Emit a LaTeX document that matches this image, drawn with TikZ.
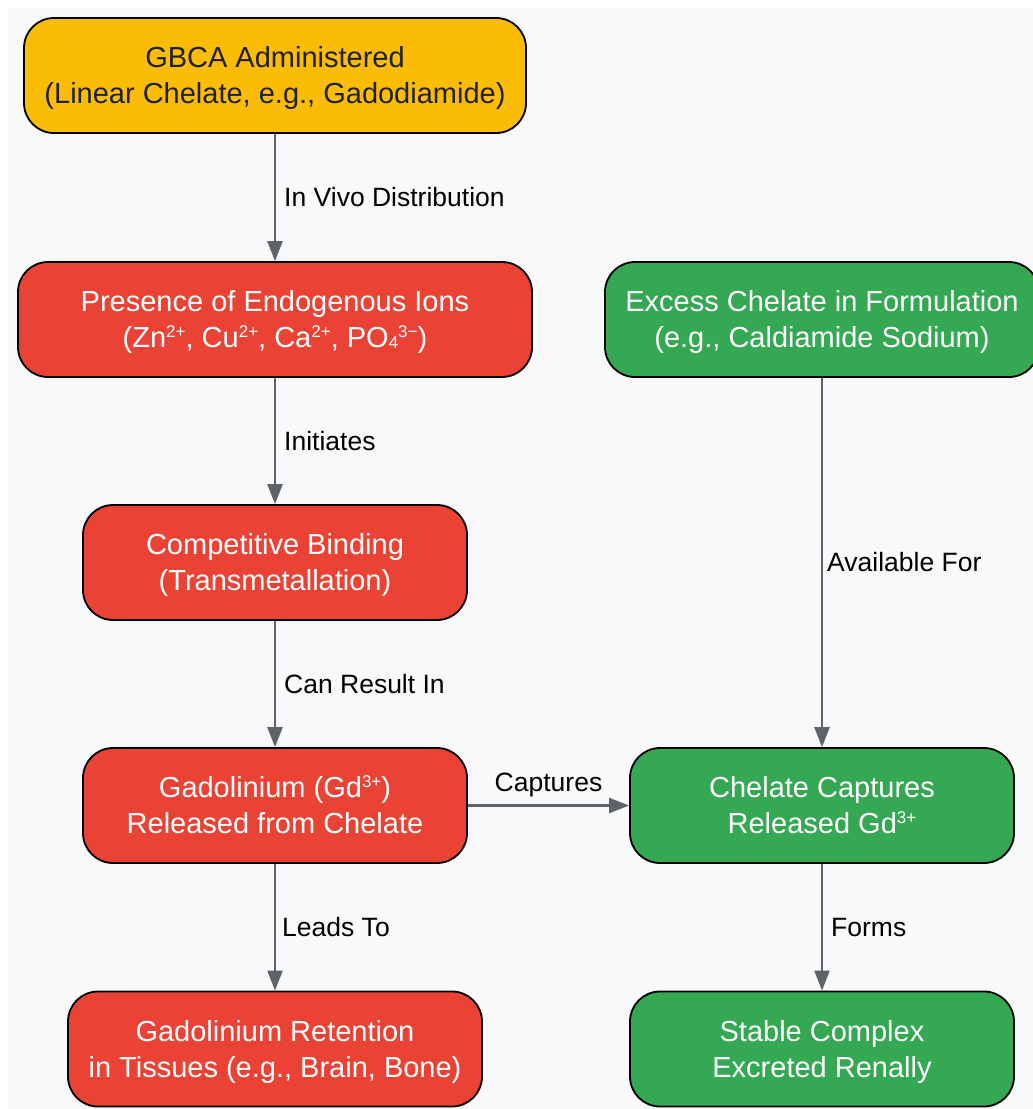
\documentclass[tikz,border=0pt]{standalone}
\usepackage{fontspec}
\setmainfont{Liberation Sans}
\usetikzlibrary{arrows.meta}
\definecolor{bgc}{HTML}{F8F9FA}
\definecolor{yel}{HTML}{FBBC05}
\definecolor{redc}{HTML}{EA4335}
\definecolor{grn}{HTML}{34A853}
\definecolor{arr}{HTML}{5F6368}
\definecolor{dark}{HTML}{202124}
\newcommand{\mysup}[1]{\raisebox{0.36em}{\fontsize{17}{17}\selectfont #1}}
\newcommand{\mysub}[1]{\raisebox{-0.02em}{\fontsize{17}{17}\selectfont #1}}
\newcommand{\twolines}[2]{\rule{0pt}{28pt}#1\\#2\rule[-8pt]{0pt}{8pt}}
\begin{document}
\begin{tikzpicture}[x=1pt,y=-1pt,
  box/.style={draw=black, line width=1.8pt, rounded corners=30pt, minimum height=115pt,
    align=center, inner sep=0pt, font=\fontsize{29}{36}\selectfont},
  yelbox/.style={box, fill=yel, text=dark},
  redbox/.style={box, fill=redc, text=white},
  grnbox/.style={box, fill=grn, text=white},
  conn/.style={draw=arr, line width=2.4pt, -{Triangle[length=20pt,width=15pt]}},
  lbl/.style={text=black, font=\fontsize{26.5}{30}\selectfont, inner sep=0pt}
]
\useasboundingbox (0,0) rectangle (1033,1109);
\fill[bgc] (8,8) rectangle (1033,1109);

\node[yelbox, minimum width=502pt] (A) at (275,75.5) {\twolines{GBCA Administered}{(Linear Chelate, e.g., Gadodiamide)}};
\node[redbox, minimum width=514pt] (B) at (275,319.5) {\twolines{Presence of Endogenous Ions}{(Zn\mysup{2+}, Cu\mysup{2+}, Ca\mysup{2+}, PO\mysub{4}\mysup{3−})}};
\node[grnbox, minimum width=434pt] (C) at (822,319.5) {\twolines{Excess Chelate in Formulation}{(e.g., Caldiamide Sodium)}};
\node[redbox, minimum width=384pt] (D) at (275,562.5) {\twolines{Competitive Binding}{(Transmetallation)}};
\node[redbox, minimum width=384pt] (E) at (275,805.5) {\twolines{Gadolinium (Gd\mysup{3+})}{Released from Chelate}};
\node[grnbox, minimum width=384pt] (F) at (822,805.5) {\twolines{Chelate Captures}{Released Gd\mysup{3+}}};
\node[redbox, minimum width=414pt] (G) at (275,1049) {\twolines{Gadolinium Retention}{in Tissues (e.g., Brain, Bone)}};
\node[grnbox, minimum width=384pt] (H) at (822,1049) {\twolines{Stable Complex}{Excreted Renally}};

\draw[conn] (A) -- node[lbl, anchor=west, xshift=8pt] {In Vivo Distribution} (B);
\draw[conn] (B) -- node[lbl, anchor=west, xshift=8pt] {Initiates} (D);
\draw[conn] (D) -- node[lbl, anchor=west, xshift=8pt] {Can Result In} (E);
\draw[conn] (E) -- node[lbl, anchor=west, xshift=6pt] {Leads To} (G);
\draw[conn] (C) -- node[lbl, anchor=west, xshift=4pt] {Available For} (F);
\draw[conn] (F) -- node[lbl, anchor=west, xshift=8pt] {Forms} (H);
\draw[conn] (E) -- node[lbl, anchor=south, yshift=7pt] {Captures} (F);
\end{tikzpicture}
\end{document}
